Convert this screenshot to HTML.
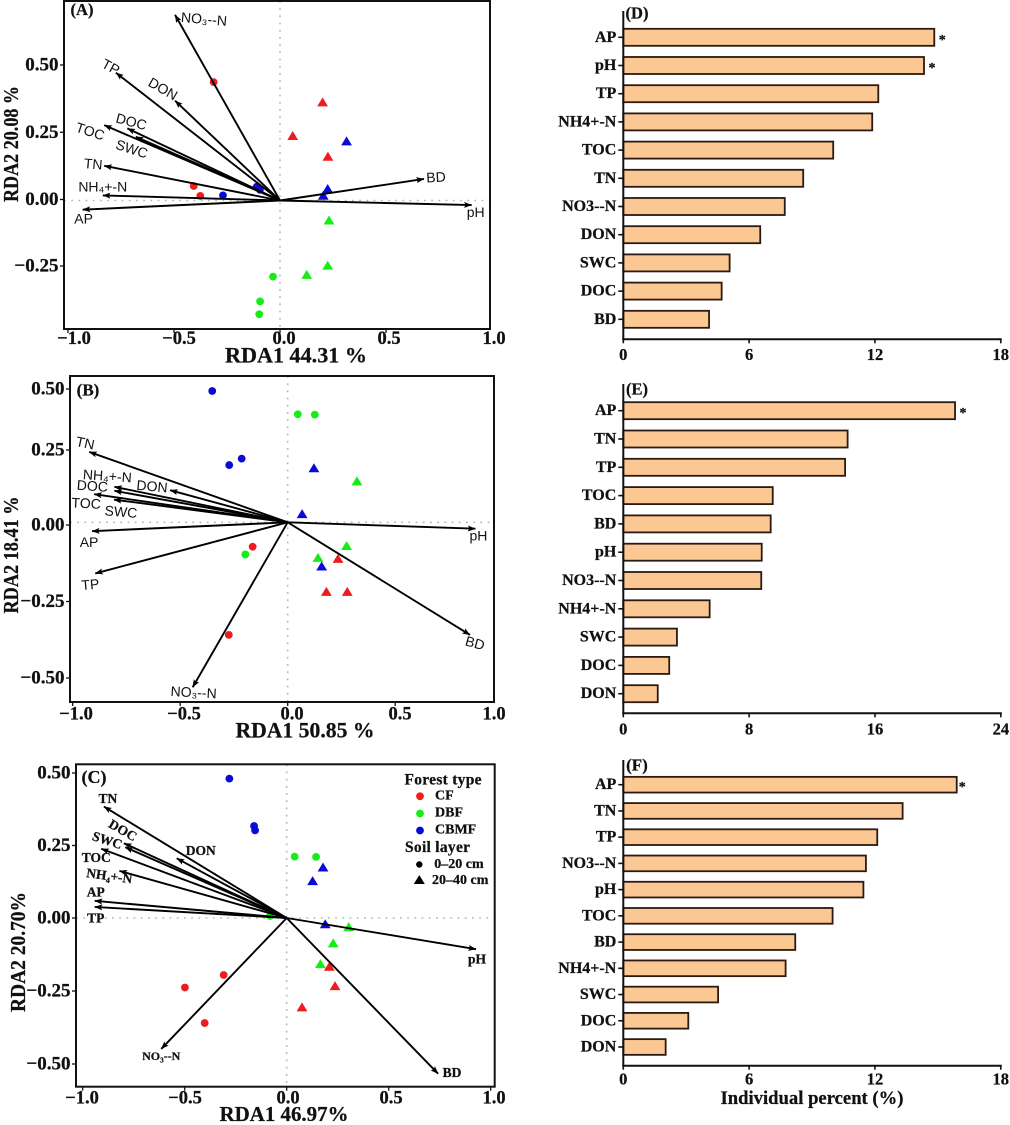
<!DOCTYPE html>
<html lang="en">
<head>
<meta charset="utf-8">
<title>RDA biplots and individual percent bars</title>
<style>
html,body{margin:0;padding:0;background:#fff;width:1010px;height:1125px;overflow:hidden}
svg{display:block;filter:blur(.3px)}
.serif{font-family:"Liberation Serif",serif;font-weight:bold;fill:#111;stroke:#111;stroke-width:.25px}
.sans{font-family:"Liberation Sans","DejaVu Sans",sans-serif;fill:#111}
text{dominant-baseline:central}
</style>
</head>
<body>
<svg id="chart" xmlns="http://www.w3.org/2000/svg" width="1010" height="1125" viewBox="0 0 1010 1125">
<defs>
<marker id="head" viewBox="0 0 8 6" refX="7.6" refY="3" markerWidth="8" markerHeight="6.5" markerUnits="userSpaceOnUse" orient="auto"><path d="M0 0L8 3L0 6L1.6 3Z" fill="#000"/></marker>
</defs>
<rect width="1010" height="1125" fill="#fff"/>
<g id="panel-a"></g>
<g id="panel-b"></g>
<g id="panel-c"></g>
<g id="panel-d"></g>
<g id="panel-e"></g>
<g id="panel-f"></g>

<text class="serif" x="82" y="9.5" font-size="16.5" text-anchor="middle">(A)</text>
<text class="serif" x="88" y="390" font-size="17" text-anchor="middle">(B)</text>
<text class="serif" x="94" y="777" font-size="18" text-anchor="middle">(C)</text>
<text class="serif" x="637" y="13" font-size="16.5" text-anchor="middle">(D)</text>
<text class="serif" x="637" y="389" font-size="16.5" text-anchor="middle">(E)</text>
<text class="serif" x="637" y="765" font-size="17" text-anchor="middle">(F)</text>

<text class="serif" x="296" y="355" font-size="22" text-anchor="middle" textLength="142" lengthAdjust="spacingAndGlyphs">RDA1 44.31 %</text>
<text class="serif" x="305" y="730" font-size="22" text-anchor="middle" textLength="139" lengthAdjust="spacingAndGlyphs">RDA1 50.85 %</text>
<text class="serif" x="284" y="1114" font-size="21.5" text-anchor="middle" textLength="129" lengthAdjust="spacingAndGlyphs">RDA1 46.97%</text>
<text class="serif" x="812" y="1099" font-size="18.5" text-anchor="middle" textLength="183" lengthAdjust="spacingAndGlyphs">Individual percent (%)</text>

<text class="serif" transform="translate(11,144) rotate(-90)" font-size="21.5" text-anchor="middle" textLength="116" lengthAdjust="spacingAndGlyphs">RDA2 20.08 %</text>
<text class="serif" transform="translate(11,555) rotate(-90)" font-size="21.5" text-anchor="middle" textLength="117" lengthAdjust="spacingAndGlyphs">RDA2 18.41 %</text>
<text class="serif" transform="translate(18,952) rotate(-90)" font-size="21.5" text-anchor="middle" textLength="120" lengthAdjust="spacingAndGlyphs">RDA2 20.70%</text>

<g>
<text class="serif" x="443" y="780" font-size="15.5" text-anchor="middle" textLength="77">Forest type</text>
<circle cx="420" cy="796.3" r="3.9" fill="#ee1c1c"/>
<text class="serif" x="435" y="796" font-size="14">CF</text>
<circle cx="420" cy="813.5" r="3.9" fill="#14ee14"/>
<text class="serif" x="435" y="813" font-size="14">DBF</text>
<circle cx="420" cy="830.5" r="3.9" fill="#0a0ad8"/>
<text class="serif" x="435" y="830" font-size="14">CBMF</text>
<text class="serif" x="437.5" y="847.5" font-size="15.5" text-anchor="middle" textLength="65">Soil layer</text>
<circle cx="419.3" cy="864.5" r="3.2" fill="#000"/>
<text class="serif" x="434.3" y="864.5" font-size="14">0–20 cm</text>
<path d="M419.3 875L424.8 884H413.8Z" fill="#000"/>
<text class="serif" x="432" y="880.5" font-size="14">20–40 cm</text>
</g>
</svg>

<script>
// ---------- Panel A data ----------
const variablesA = ['NO₃--N','TP','DON','DOC','SWC','TOC','TN','NH₄+-N','AP','BD','pH'];
const arrowXA = [-0.495,-0.774,-0.495,-0.72,-0.68,-0.829,-0.829,-0.836,-0.931,0.679,0.904];
const arrowYA = [0.69,0.475,0.371,0.268,0.237,0.28,0.129,0.019,-0.034,0.08,-0.017];
const siteXA = [-0.313,-0.407,-0.376,-0.269,-0.11,-0.095,-0.033,-0.094,-0.098,0.201,0.06,0.226,0.314,0.225,0.204,0.231,0.225,0.126];
const siteYA = [0.44,0.054,0.017,0.019,0.051,0.04,-0.283,-0.375,-0.423,0.364,0.239,0.162,0.219,0.042,0.017,-0.075,-0.243,-0.277];
const siteForestA = ['CF','CF','CF','CBMF','CBMF','CBMF','DBF','DBF','DBF','CF','CF','CF','CBMF','CBMF','CBMF','DBF','DBF','DBF'];
const siteLayerA = ['0-20','0-20','0-20','0-20','0-20','0-20','0-20','0-20','0-20','20-40','20-40','20-40','20-40','20-40','20-40','20-40','20-40','20-40'];

// ---------- Panel B data ----------
const variablesB = ['TN','NH₄+-N','DOC','DON','TOC','SWC','AP','TP','NO₃--N','BD','pH'];
const arrowXB = [-0.923,-0.806,-0.806,-0.547,-0.9,-0.808,-0.91,-0.895,-0.442,0.848,0.873];
const arrowYB = [0.23,0.116,0.103,0.105,0.092,0.074,-0.029,-0.167,-0.539,-0.368,-0.021];
const siteXB = [-0.351,-0.214,-0.272,0.047,0.126,-0.197,-0.163,-0.274,0.122,0.067,0.158,0.322,0.274,0.141,0.234,0.18,0.277];
const siteYB = [0.429,0.208,0.187,0.353,0.352,-0.105,-0.08,-0.368,0.176,0.026,-0.145,0.133,-0.078,-0.117,-0.12,-0.228,-0.228];
const siteForestB = ['CBMF','CBMF','CBMF','DBF','DBF','DBF','CF','CF','CBMF','CBMF','CBMF','DBF','DBF','DBF','CF','CF','CF'];
const siteLayerB = ['0-20','0-20','0-20','0-20','0-20','0-20','0-20','0-20','20-40','20-40','20-40','20-40','20-40','20-40','20-40','20-40','20-40'];

// ---------- Panel C data ----------
const variablesC = ['TN','DOC','SWC','TOC','DON','NH₄+-N','AP','TP','NO₃--N','BD','pH'];
const arrowXC = [-0.896,-0.798,-0.791,-0.909,-0.539,-0.82,-0.941,-0.941,-0.615,0.742,0.928];
const arrowYC = [0.383,0.257,0.243,0.238,0.205,0.162,0.059,0.038,-0.45,-0.535,-0.107];
const siteXC = [-0.281,-0.16,-0.155,0.039,0.144,-0.082,-0.309,-0.499,-0.402,0.178,0.127,0.189,0.304,0.228,0.165,0.209,0.237,0.075];
const siteYC = [0.479,0.316,0.301,0.211,0.21,0.007,-0.196,-0.239,-0.361,0.173,0.126,-0.022,-0.032,-0.088,-0.159,-0.168,-0.235,-0.308];
const siteForestC = ['CBMF','CBMF','CBMF','DBF','DBF','DBF','CF','CF','CF','CBMF','CBMF','CBMF','DBF','DBF','DBF','CF','CF','CF'];
const siteLayerC = ['0-20','0-20','0-20','0-20','0-20','0-20','0-20','0-20','0-20','20-40','20-40','20-40','20-40','20-40','20-40','20-40','20-40','20-40'];

// ---------- Scatter axis ticks ----------
const xTicksRda = [-1,-0.5,0,0.5,1];
const yTicksA = [0.5,0.25,0,-0.25];
const yTicksB = [0.5,0.25,0,-0.25,-0.5];
const yTicksC = [0.5,0.25,0,-0.25,-0.5];

// ---------- Bar data ----------
const categoriesD = ['AP','pH','TP','NH4+-N','TOC','TN','NO3--N','DON','SWC','DOC','BD'];
const percentD = [14.83,14.34,12.16,11.87,10.01,8.58,7.7,6.53,5.07,4.69,4.09];
const significantD = ['AP','pH'];
const ticksD = [0,6,12,18];

const categoriesE = ['AP','TN','TP','TOC','BD','pH','NO3--N','NH4+-N','SWC','DOC','DON'];
const percentE = [21.09,14.26,14.1,9.5,9.37,8.8,8.77,5.49,3.41,2.92,2.19];
const significantE = ['AP'];
const ticksE = [0,8,16,24];

const categoriesF = ['AP','TN','TP','NO3--N','pH','TOC','BD','NH4+-N','SWC','DOC','DON'];
const percentF = [15.9,13.32,12.11,11.57,11.45,9.98,8.2,7.74,4.52,3.1,2.02];
const significantF = ['AP'];
const ticksF = [0,6,12,18];

// ---------- Drawing ----------
const NS = 'http://www.w3.org/2000/svg';
const forestColor = {CF:'#ee1c1c', DBF:'#14ee14', CBMF:'#0a0ad8'};

function mk(parent, tag, attrs, text) {
  const node = document.createElementNS(NS, tag);
  for (const k in attrs) node.setAttribute(k, attrs[k]);
  if (text !== undefined) node.textContent = text;
  parent.appendChild(node);
  return node;
}
function fmtTick(v, digits) {
  const s = Math.abs(v).toFixed(digits);
  return v < 0 ? '−' + s : s;
}
function piecewise(anchors, v) {
  for (let i = 0; i < anchors.length - 1; i++) {
    const a = anchors[i], b = anchors[i + 1];
    if (v >= a[0] && v <= b[0]) return a[1] + (v - a[0]) / (b[0] - a[0]) * (b[1] - a[1]);
  }
  return anchors[0][1];
}

function drawScatter(id, cfg, variables, arrowX, arrowY, siteX, siteY, siteForest, siteLayer, yTicks) {
  const g = document.getElementById(id);
  const X = v => cfg.ox + cfg.sx * v;
  const Y = v => cfg.oy - cfg.sy * v;
  let el;

  el = mk(g, 'line', {x1:cfg.left, x2:cfg.right, y1:cfg.oy, y2:cfg.oy, stroke:'#b8b8b8', 'stroke-width':1.6, 'stroke-dasharray':'1.8 5.4'});
  
  
  el = mk(g, 'line', {x1:cfg.ox, x2:cfg.ox, y1:cfg.top, y2:cfg.bottom, stroke:'#b8b8b8', 'stroke-width':1.6, 'stroke-dasharray':'1.8 5.4'});
  
  

  siteX.forEach((sx, i) => {
    const cx = X(sx), cy = Y(siteY[i]), color = forestColor[siteForest[i]];
    let m;
    if (siteLayer[i] === '0-20') {
      m = mk(g, 'circle', {cx:cx, cy:cy, r:3.9, fill:color});
    } else {
      m = mk(g, 'path', {d:`M${cx} ${cy-5.2}L${cx+5.4} ${cy+3.8}H${cx-5.4}Z`, fill:color});
    }
    
    
  });

  variables.forEach((name, i) => {
    const tx = X(arrowX[i]), ty = Y(arrowY[i]);
    const arrow = mk(g, 'line', {x1:cfg.ox, y1:cfg.oy, x2:tx, y2:ty, stroke:'#000', 'stroke-width':1.9, 'marker-end':'url(#head)'});
    
    
    const p = cfg.labelPlacement[i];
    const lx = tx + p[0], ly = ty + p[1];
    const label = mk(g, 'text', {x:lx, y:ly, 'text-anchor':'middle', 'font-size':p[3] || cfg.labelSize, class:cfg.labelClass, transform:`rotate(${p[2]} ${lx} ${ly})`}, name);
    
    
  });

  el = mk(g, 'rect', {x:cfg.left, y:cfg.top, width:cfg.right-cfg.left, height:cfg.bottom-cfg.top, fill:'none', stroke:'#111', 'stroke-width':2});
  
  

  xTicksRda.forEach(v => {
    const tx = X(v);
    if (tx >= cfg.left && tx <= cfg.right) {
      const t = mk(g, 'line', {x1:tx, x2:tx, y1:cfg.bottom, y2:cfg.bottom+4, stroke:'#111', 'stroke-width':1.3});
      
      
    }
    const lab = mk(g, 'text', {x:Math.min(cfg.lx0 + cfg.lxs * v, 494), y:cfg.xLabelY, 'text-anchor':'middle', 'font-size':18.5, class:'serif'}, fmtTick(v, 1));
    
    
  });

  yTicks.forEach(v => {
    const ty = piecewise(cfg.tickAnchors, v);
    const t = mk(g, 'line', {x1:cfg.left-4, x2:cfg.left, y1:ty, y2:ty, stroke:'#111', 'stroke-width':1.3});
    
    
    const lab = mk(g, 'text', {x:cfg.left-5.5, y:ty, 'text-anchor':'end', 'font-size':19, class:'serif'}, fmtTick(v, 2));
    
    
  });
}

function drawBars(id, cfg, categories, percent, significant, ticks) {
  const g = document.getElementById(id);
  const X = v => cfg.x0 + cfg.sx * v;
  const Y = i => cfg.y0 + cfg.step * i;
  let el;

  categories.forEach((name, i) => {
    const cy = Y(i);
    const bar = mk(g, 'rect', {x:cfg.x0, y:cy-cfg.h/2, width:X(percent[i])-cfg.x0, height:cfg.h, fill:'#fbc792', stroke:'#2a1a12', 'stroke-width':1.8});
    
    
    const tick = mk(g, 'line', {x1:cfg.x0-5, x2:cfg.x0, y1:cy, y2:cy, stroke:'#111', 'stroke-width':1.6});
    
    
    const lab = mk(g, 'text', {x:cfg.x0-7, y:cy, 'text-anchor':'end', 'font-size':16, class:'serif'}, name);
    
    
    if (significant.includes(name)) {
      const star = mk(g, 'text', {x:X(percent[i])+cfg.starGap, y:cy+3, 'text-anchor':'middle', 'font-size':14, class:'serif'}, '*');
      
      
    }
  });

  el = mk(g, 'line', {x1:cfg.x0, x2:cfg.x0, y1:cfg.top, y2:cfg.axisY+1, stroke:'#111', 'stroke-width':2});
  
  
  el = mk(g, 'line', {x1:cfg.x0-1, x2:X(ticks[ticks.length-1])+1, y1:cfg.axisY, y2:cfg.axisY, stroke:'#111', 'stroke-width':2});
  
  

  ticks.forEach(v => {
    const tx = X(v);
    const t = mk(g, 'line', {x1:tx, x2:tx, y1:cfg.axisY, y2:cfg.axisY+4, stroke:'#111', 'stroke-width':1.6});
    
    
    const lab = mk(g, 'text', {x:tx, y:cfg.axisY+cfg.labelGap, 'text-anchor':'middle', 'font-size':16.5, class:'serif'}, String(v));
    
    
  });
}

drawScatter('panel-a', {
  left:64, right:490, top:1, bottom:329, ox:280, oy:200.5, sx:212, sy:269,
  lx0:284, lxs:210, xLabelY:339, labelSize:14, labelClass:'sans',
  tickAnchors:[[-0.25,266],[0,199.5],[0.5,65]],
  labelPlacement:[[29,4,5],[-5,-6,28],[-12,-12,30],[4,-7,15],[-4,12,18],[-14,6,18],[-11,-2,5],[0,-9,0],[1,9,0],[12,-2,-3],[4,7,0]]
}, variablesA, arrowXA, arrowYA, siteXA, siteYA, siteForestA, siteLayerA, yTicksA);

drawScatter('panel-b', {
  left:70, right:494, top:376, bottom:702, ox:287.7, oy:522.3, sx:215, sy:306,
  lx0:292, lxs:216, xLabelY:714.5, labelSize:14, labelClass:'sans',
  tickAnchors:[[-0.5,678],[0,525],[0.25,450],[0.5,389]],
  labelPlacement:[[-4,-9,12],[-7,-11,4],[-22,-5,4],[-18,-4,5],[-8,9,3],[7,12,5],[-3,11,0],[-5,11,-5],[1,5,3],[5,8,15],[3,7,0]]
}, variablesB, arrowXB, arrowYB, siteXB, siteYB, siteForestB, siteLayerB, yTicksB);

drawScatter('panel-c', {
  left:76, right:494.7, top:764.3, bottom:1086.7, ox:286.7, oy:918, sx:204, sy:291,
  lx0:288, lxs:206, xLabelY:1098.5, labelSize:13.5, labelClass:'serif',
  tickAnchors:[[-0.5,1064],[0,918],[0.5,773]],
  labelPlacement:[[4,-8,0],[-1,-13,30],[-18,-7,18],[-5,9,0],[24,-8,0],[-10,5,8],[1,-9,0],[1,11,0],[0,7,0,12],[14,-1,0],[1,10,0]]
}, variablesC, arrowXC, arrowYC, siteXC, siteYC, siteForestC, siteLayerC, yTicksC);

drawBars('panel-d', {x0:623.3, sx:20.97, y0:37.3, step:28.2, h:17, top:11, axisY:339.3, labelGap:15, starGap:8}, categoriesD, percentD, significantD, ticksD);
drawBars('panel-e', {x0:623.3, sx:15.73, y0:410.7, step:28.3, h:17, top:384, axisY:713.3, labelGap:15.5, starGap:8}, categoriesE, percentE, significantE, ticksE);
drawBars('panel-f', {x0:623.3, sx:20.97, y0:784.7, step:26.23, h:15.7, top:760, axisY:1065.7, labelGap:13.5, starGap:5.5}, categoriesF, percentF, significantF, ticksF);
</script>
</body>
</html>
